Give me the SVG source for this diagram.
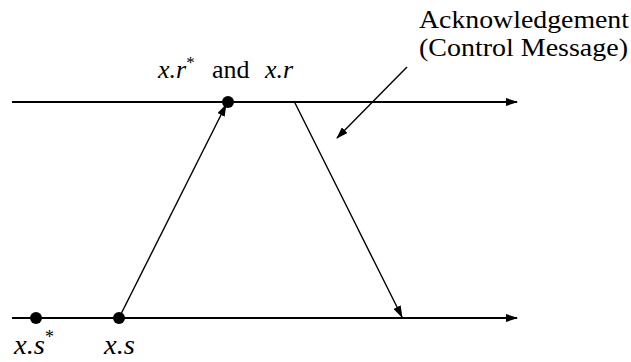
<svg xmlns="http://www.w3.org/2000/svg" width="631" height="362" viewBox="0 0 631 362">
<style>
.axis{stroke:#000;stroke-width:2.2;fill:none}
.msg{stroke:#000;stroke-width:1.4;fill:none}
</style>
<defs>
<marker id="ah" markerWidth="12" markerHeight="8" refX="11" refY="4" orient="auto" markerUnits="userSpaceOnUse">
<path d="M0,0 L12,4 L0,8 Z" fill="#000"/>
</marker>
</defs>
<rect width="631" height="362" fill="#fff"/>
<g id="connectors">
<line class="axis" x1="12" y1="102" x2="517" y2="102" marker-end="url(#ah)"/>
<line class="axis" x1="12" y1="318" x2="517" y2="318" marker-end="url(#ah)"/>
<line class="msg" x1="119" y1="318" x2="226" y2="105" marker-end="url(#ah)"/>
<line class="msg" x1="294" y1="101" x2="402" y2="317" marker-end="url(#ah)"/>
<line class="msg" x1="407" y1="67" x2="337" y2="138" marker-end="url(#ah)"/>
</g>
<g font-family="Liberation Serif, DejaVu Serif, serif" font-size="25" fill="#000">
<g id="node-xs-star">
<circle cx="36" cy="318" r="6" fill="#000"/>
<text x="14" y="354" font-size="27" font-style="italic"><tspan textLength="31" lengthAdjust="spacingAndGlyphs">x.s</tspan><tspan font-size="18" dy="-11" font-style="normal">*</tspan></text>
</g>
<g id="node-xs">
<circle cx="119" cy="318" r="6" fill="#000"/>
<text x="104" y="354" font-size="27" font-style="italic" textLength="31" lengthAdjust="spacingAndGlyphs">x.s</text>
</g>
<g id="node-xr">
<circle cx="228" cy="102" r="6" fill="#000"/>
<text x="158" y="78" font-size="26"><tspan font-style="italic">x.r</tspan><tspan font-size="17" dy="-10">*</tspan><tspan dy="10" x="212">and</tspan><tspan font-style="italic" x="265">x.r</tspan></text>
</g>
<g id="node-ack">
<text x="419" y="28" textLength="210" lengthAdjust="spacingAndGlyphs">Acknowledgement</text>
<text x="419" y="56" textLength="209" lengthAdjust="spacingAndGlyphs">(Control Message)</text>
</g>
</g>
</svg>
